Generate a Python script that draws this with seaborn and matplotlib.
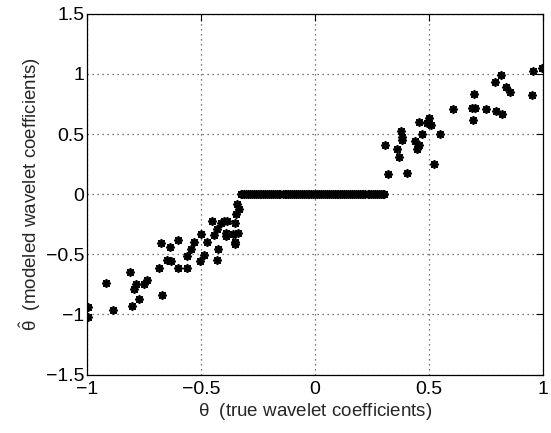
import numpy as np
import pandas as pd
import seaborn as sns
import matplotlib.pyplot as plt

# left cluster (true, modeled)
left_true = [-0.994, -0.994, -0.917, -0.888, -0.81, -0.803, -0.793, -0.785, -0.774,
             -0.749, -0.739, -0.683, -0.675, -0.673, -0.651, -0.632, -0.636, -0.601,
             -0.6, -0.563, -0.561, -0.543, -0.531, -0.504, -0.502, -0.487, -0.475,
             -0.453, -0.445, -0.428, -0.424, -0.43, -0.412, -0.398, -0.386, -0.39,
             -0.39, -0.361, -0.35, -0.35, -0.35, -0.347, -0.344, -0.335, -0.336]
left_model = [-0.94, -1.02, -0.736, -0.96, -0.647, -0.933, -0.79, -0.75, -0.875,
              -0.75, -0.71, -0.614, -0.405, -0.84, -0.545, -0.558, -0.44, -0.378,
              -0.614, -0.517, -0.611, -0.453, -0.397, -0.558, -0.328, -0.508, -0.397,
              -0.222, -0.342, -0.544, -0.453, -0.286, -0.239, -0.222, -0.222, -0.322,
              -0.35, -0.333, -0.397, -0.415, -0.236, -0.167, -0.078, -0.119, -0.32]

# thresholded coefficients (modeled as zero)
zero_true = [-0.325, -0.318, -0.309, -0.301, -0.292, -0.284, -0.277, -0.268, -0.259,
             -0.251, -0.243, -0.236, -0.226, -0.218, -0.209, -0.201, -0.193, -0.184,
             -0.176, -0.167, -0.159, -0.151, -0.142, -0.133, -0.125, -0.117, -0.108,
             -0.099, -0.091, -0.083, -0.074, -0.066, -0.058, -0.049, -0.041, -0.032,
             -0.024, -0.016, -0.007, 0.002, 0.011, 0.019, 0.027, 0.036, 0.044, 0.053,
             0.061, 0.069, 0.078, 0.087, 0.095, 0.103, 0.112, 0.121, 0.129, 0.137,
             0.146, 0.154, 0.163, 0.171, 0.179, 0.188, 0.197, 0.205, 0.213, 0.222,
             0.231, 0.239, 0.247, 0.256, 0.264, 0.273, 0.281, 0.289, 0.297, 0.304]

# right cluster
right_true = [0.323, 0.308, 0.361, 0.367, 0.377, 0.381, 0.384, 0.403, 0.44, 0.45,
              0.457, 0.455, 0.468, 0.494, 0.5, 0.51, 0.523, 0.55, 0.604, 0.693,
              0.691, 0.703, 0.699, 0.753, 0.791, 0.797, 0.82, 0.818, 0.84, 0.858,
              0.951, 0.957, 0.995]
right_model = [0.172, 0.408, 0.375, 0.308, 0.528, 0.472, 0.45, 0.178, 0.439, 0.378,
               0.411, 0.597, 0.5, 0.589, 0.636, 0.575, 0.25, 0.5, 0.711, 0.619,
               0.717, 0.717, 0.833, 0.711, 0.933, 0.694, 0.667, 0.994, 0.889, 0.85,
               0.828, 1.025, 1.047]

df = pd.DataFrame({
    "true": left_true + zero_true + right_true,
    "model": left_model + [0.0] * len(zero_true) + right_model,
})

sns.set_style("white")
plt.rcParams['font.family'] = ['Liberation Sans', 'DejaVu Sans']
plt.rcParams['mathtext.fontset'] = 'custom'
plt.rcParams['mathtext.rm'] = 'Liberation Sans'
plt.rcParams['mathtext.it'] = 'Liberation Sans'

fig = plt.figure(figsize=(5.51, 4.33), dpi=100)
ax = fig.add_axes([0.158, 0.135, 0.827, 0.833])

sns.scatterplot(data=df, x="true", y="model", marker=(8, 2, 0), s=28,
                color="black", edgecolor="black", linewidth=1.3, ax=ax, zorder=3)

ax.set_xlim(-1, 1)
ax.set_ylim(-1.5, 1.5)
ax.set_xticks([-1, -0.5, 0, 0.5, 1])
ax.set_xticklabels(["\u22121", "\u22120.5", "0", "0.5", "1"])
ax.set_yticks([-1.5, -1, -0.5, 0, 0.5, 1, 1.5])
ax.set_yticklabels(["\u22121.5", "\u22121", "\u22120.5", "0", "0.5", "1", "1.5"])
ax.grid(True, linestyle=(0, (1, 3)), color="black", linewidth=0.9, alpha=0.7)
ax.tick_params(direction="in", top=True, right=True, labelsize=14, length=5,
               width=0.8, colors="black", pad=2)
ax.tick_params(axis="x", pad=5)
for sp in ax.spines.values():
    sp.set_color("black")
    sp.set_linewidth(0.9)

ax.set_xlabel(r"$\theta$  (true wavelet coefficients)", fontsize=13.5, labelpad=2)
ax.set_ylabel(r"$\hat{\theta}$  (modeled wavelet coefficients)", fontsize=13.5, labelpad=2)

fig.savefig("out.png", dpi=100)
